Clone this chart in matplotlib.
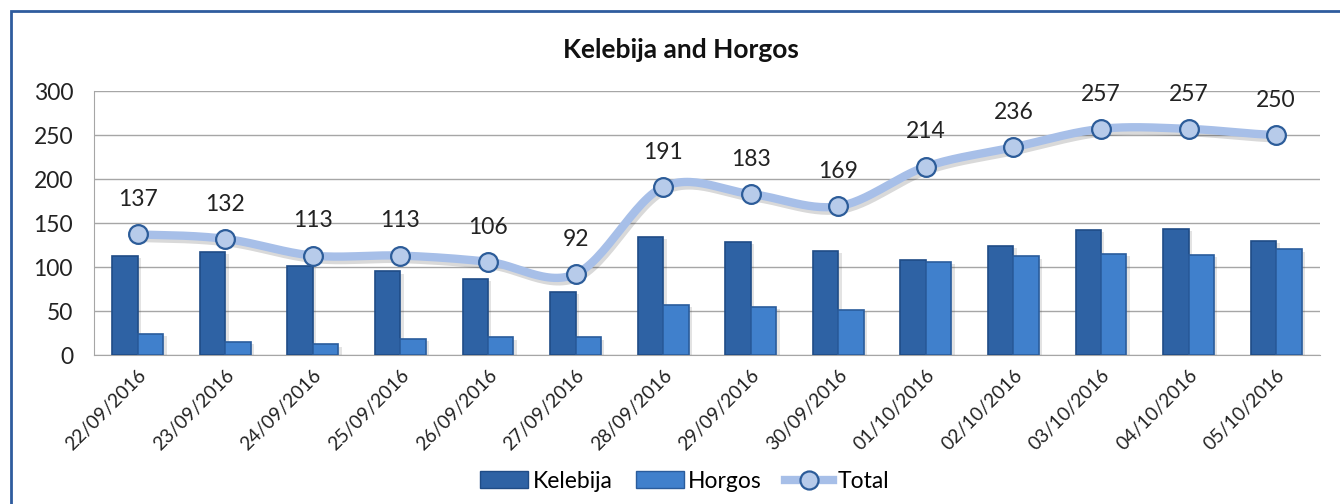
import numpy as np
import matplotlib
matplotlib.use("Agg")
import matplotlib.pyplot as plt
import matplotlib.patheffects as pe
from matplotlib.lines import Line2D
from matplotlib.patches import Patch, Rectangle

dates = ["22/09/2016", "23/09/2016", "24/09/2016", "25/09/2016", "26/09/2016",
         "27/09/2016", "28/09/2016", "29/09/2016", "30/09/2016", "01/10/2016",
         "02/10/2016", "03/10/2016", "04/10/2016", "05/10/2016"]
kelebija = [113, 117, 101, 95, 86, 72, 134, 128, 118, 108, 124, 142, 143, 130]
horgos = [24, 15, 12, 18, 20, 20, 57, 55, 51, 106, 112, 115, 114, 120]
total = [137, 132, 113, 113, 106, 92, 191, 183, 169, 214, 236, 257, 257, 250]

KEL_COL = "#2E62A4"
KEL_EDGE = "#1F4C86"
HOR_COL = "#4080CC"
HOR_EDGE = "#2A5C9C"
LINE_COL = "#A7BFE8"
MARK_FACE = "#B7CBEA"
MARK_EDGE = "#2C5C99"
FONT = "Lato"


def smooth(xs, ys, n=30):
    # catmull-rom through the points, only for drawing the excel-style smooth line
    xs = np.asarray(xs, float)
    ys = np.asarray(ys, float)
    px = np.concatenate([[2 * xs[0] - xs[1]], xs, [2 * xs[-1] - xs[-2]]])
    py = np.concatenate([[ys[0]], ys, [ys[-1]]])
    outx, outy = [], []
    for i in range(1, len(px) - 2):
        t = np.linspace(0, 1, n)
        for p, out in ((px, outx), (py, outy)):
            p0, p1, p2, p3 = p[i - 1], p[i], p[i + 1], p[i + 2]
            v = 0.5 * ((2 * p1) + (-p0 + p2) * t + (2 * p0 - 5 * p1 + 4 * p2 - p3) * t ** 2
                       + (-p0 + 3 * p1 - 3 * p2 + p3) * t ** 3)
            out.extend(v)
    return np.array(outx), np.array(outy)


fig = plt.figure(figsize=(13.4, 5.04), dpi=100)
ax = fig.add_axes([0.0701, 0.2956, 0.9149, 0.5238])

x = np.arange(len(dates))
w = 0.29
shadow = [pe.SimplePatchShadow(offset=(2.5, -1.5), alpha=0.15, shadow_rgbFace="#444444"), pe.Normal()]
b1 = ax.bar(x - w / 2, kelebija, w, color=KEL_COL, edgecolor=KEL_EDGE, linewidth=1.2, zorder=3)
b2 = ax.bar(x + w / 2, horgos, w, color=HOR_COL, edgecolor=HOR_EDGE, linewidth=1.2, zorder=3)
for b in list(b1) + list(b2):
    b.set_path_effects(shadow)

sx, sy = smooth(x, total)
ax.plot(sx, sy, color=LINE_COL, lw=6, solid_capstyle="round", zorder=4,
        path_effects=[pe.SimpleLineShadow(offset=(1.5, -2.5), alpha=0.15), pe.Normal()])
ax.plot(x, total, ls="none", marker="o", ms=13.5, mfc=MARK_FACE, mec=MARK_EDGE, mew=1.6, zorder=5)

for xi, t in zip(x, total):
    ax.annotate(str(t), (xi, t), xytext=(0, 25), textcoords="offset points",
                ha="center", va="center", fontsize=16.5, family=FONT, color="#222222", zorder=6)

ax.set_xlim(-0.5, len(dates) - 0.5)
ax.set_ylim(0, 300)
ax.set_yticks(range(0, 301, 50))
ax.yaxis.grid(True, color="#A6A6A6", lw=1)
ax.set_axisbelow(True)
for s in ["top", "right"]:
    ax.spines[s].set_visible(False)
for s in ["left", "bottom"]:
    ax.spines[s].set_color("#A6A6A6")
ax.tick_params(axis="both", length=0)
ax.tick_params(axis="y", pad=15, labelsize=16.5)
ax.set_xticks(x)
ax.set_xticklabels(dates, rotation=45, ha="right", rotation_mode="anchor", fontsize=13.8)
ax.tick_params(axis="x", pad=8)
for lab in ax.get_xticklabels() + ax.get_yticklabels():
    lab.set_family(FONT)
    lab.set_color("#222222")

fig.text(0.508, 0.90, "Kelebija and Horgos", ha="center", va="center",
         fontsize=19, fontweight="bold", family=FONT, color="#111111")

handles = [Patch(facecolor=KEL_COL, edgecolor=KEL_EDGE),
           Patch(facecolor=HOR_COL, edgecolor=HOR_EDGE),
           Line2D([], [], color=LINE_COL, lw=6, marker="o", ms=13, mfc=MARK_FACE, mec=MARK_EDGE, mew=1.6)]
fig.legend(handles, ["Kelebija", "Horgos", "Total"], loc="center", bbox_to_anchor=(0.511, 0.045),
           ncol=3, frameon=False, prop={"family": FONT, "size": 16.5},
           handlelength=2.1, handleheight=0.75, columnspacing=1.0, handletextpad=0.2)

fig.patches.append(Rectangle((0.008, -0.05), 1.1, 1.029, transform=fig.transFigure,
                             fill=False, edgecolor="#2F5C9E", lw=2, zorder=10))

fig.savefig("out.png", dpi=100)
